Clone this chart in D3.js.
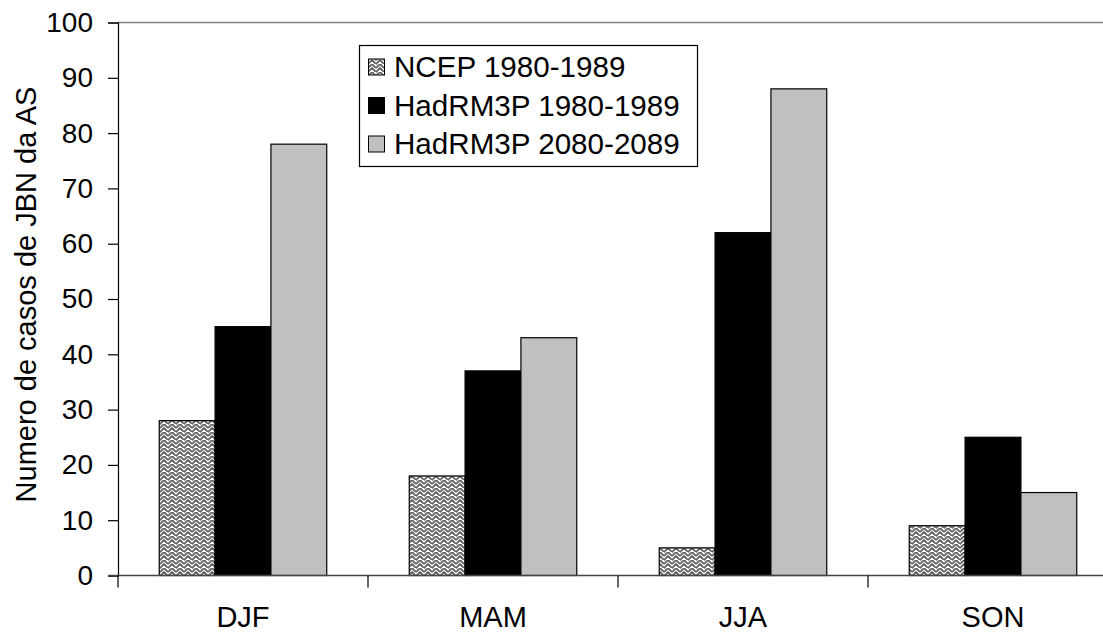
<!DOCTYPE html>
<html><head><meta charset="utf-8">
<script src="https://cdn.jsdelivr.net/npm/d3@7"></script>
<style>body{margin:0;background:#fff}svg{display:block}text{font-family:"Liberation Sans",Arial,sans-serif}</style>
</head><body>
<svg id="c" width="1103" height="633"></svg>
<script>
const categories = ["DJF","MAM","JJA","SON"];
const seriesNames = ["NCEP 1980-1989","HadRM3P 1980-1989","HadRM3P 2080-2089"];
const ncep = [28,18,5,9];
const had1980 = [45,37,62,25];
const had2080 = [78,43,88,15];
const yTicks = [0,10,20,30,40,50,60,70,80,90,100];
const seriesValues = [ncep, had1980, had2080];

(function(){
const svg = d3.select("#c");
const defs = svg.append("defs");
const pat = defs.append("pattern").attr("id","weave").attr("patternUnits","userSpaceOnUse")
  .attr("width",8).attr("height",8);
pat.append("rect").attr("width",8).attr("height",8).attr("fill","#fff");
pat.append("path").attr("d","M0,4 L4,0 L8,4 M0,8 L4,4 L8,8 M-1,1 L1,-1 M7,9 L9,7")
  .attr("stroke","#666").attr("stroke-width",1.8).attr("fill","none");
const fills = ["url(#weave)","#000","#c0c0c0"];

const pL=118, pR=1118, pT=22.5, pB=575.5;
const x = d3.scaleBand().domain(categories).range([pL,pR]).paddingInner(0.33).paddingOuter(0.165);
const xs = d3.scaleBand().domain(d3.range(3)).range([0,x.bandwidth()]);
const y = d3.scaleLinear().domain([0,100]).range([pB,pT]);

svg.append("line").attr("x1",pL).attr("x2",1103).attr("y1",pT).attr("y2",pT).attr("stroke","#808080").attr("stroke-width",1.5);

categories.forEach((c,i)=>{
  seriesValues.forEach((vals,s)=>{
    svg.append("rect").attr("x",x(c)+xs(s)).attr("y",y(vals[i]))
      .attr("width",xs.bandwidth()).attr("height",y(0)-y(vals[i]))
      .attr("fill",fills[s]).attr("stroke","#000").attr("stroke-width",1.2);
  });
});

const ya = d3.axisLeft(y).tickValues(yTicks).tickSize(10).tickPadding(15);
const gy = svg.append("g").attr("transform",`translate(${pL},0)`).call(ya);
gy.select(".domain").attr("stroke","#000").attr("stroke-width",1.2);
gy.selectAll(".tick line").attr("stroke","#000").attr("stroke-width",1.2);
gy.selectAll("text").attr("font-size",28).attr("fill","#000").attr("font-family","Liberation Sans, Arial");

svg.append("line").attr("x1",pL-10).attr("x2",1103).attr("y1",pB).attr("y2",pB).attr("stroke","#444").attr("stroke-width",1.5);
const step = x.step();
categories.forEach((c,i)=>{
  const bx = x(c) - x.paddingOuter()*step;
  svg.append("line").attr("x1",bx).attr("x2",bx).attr("y1",pB).attr("y2",pB+12).attr("stroke","#000").attr("stroke-width",1.2);
});
const xa = d3.axisBottom(x).tickSize(0).tickPadding(31);
const gx = svg.append("g").attr("transform",`translate(0,${pB})`).call(xa);
gx.select(".domain").remove();
gx.selectAll("text").attr("font-size",29).attr("fill","#000").attr("font-family","Liberation Sans, Arial");

svg.append("text").attr("transform","translate(36,294.5) rotate(-90)").attr("text-anchor","middle")
  .attr("font-size",29).text("Numero de casos de JBN da AS");

const lg = svg.append("g");
lg.append("rect").attr("x",359.5).attr("y",45.5).attr("width",338).attr("height",121).attr("fill","#fff").attr("stroke","#000").attr("stroke-width",1.2);
seriesNames.forEach((n,i)=>{
  const cy = 67 + i*38.5;
  lg.append("rect").attr("x",368.5).attr("y",cy-8).attr("width",16).attr("height",16).attr("fill",fills[i]).attr("stroke","#000").attr("stroke-width",1);
  lg.append("text").attr("x",394).attr("y",cy+10).attr("font-size",29.6).text(n);
});
})();
</script>
</body></html>
